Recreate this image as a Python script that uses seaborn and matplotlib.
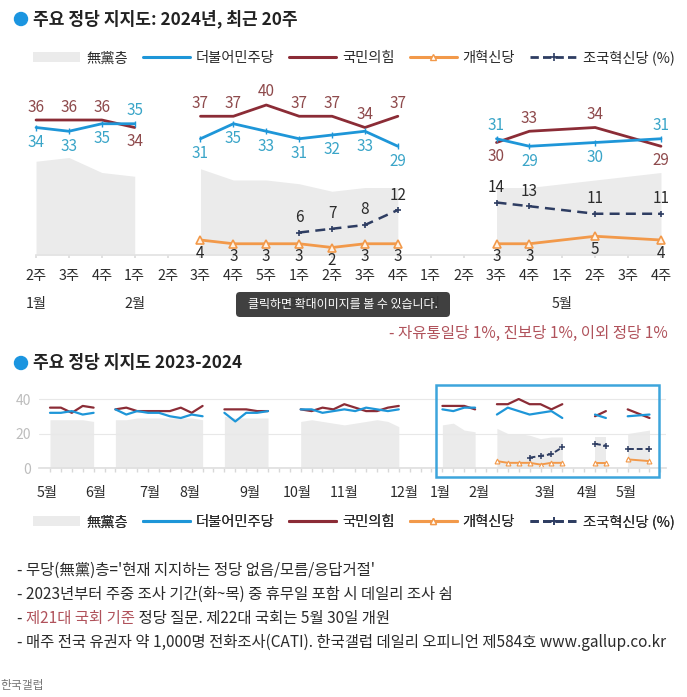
import numpy as np
import pandas as pd
import matplotlib
matplotlib.use('Agg')
import matplotlib.pyplot as plt
import seaborn as sns
from matplotlib.patches import Patch, Rectangle, FancyBboxPatch, Circle
from matplotlib.lines import Line2D

sns.set_theme(style='white')
plt.rcParams['font.family'] = ['Noto Sans CJK KR', 'DejaVu Sans']
plt.rcParams['axes.unicode_minus'] = False

nan = np.nan

# --- top chart: 2024, last 20 weeks ---
week_labels = ['2주', '3주', '4주', '1주', '2주', '3주', '4주', '5주', '1주', '2주',
               '3주', '4주', '1주', '2주', '3주', '4주', '1주', '2주', '3주', '4주']
top_months = ['1월', '2월', '3월', '4월', '5월']
top_month_pos = [0, 3, 8, 12, 16]
top_segments = [(0, 3), (5, 11), (14, 19)]
ppp_24 = [36, 36, 36, 34, nan, 37, 37, 40, 37, 37, 34, 37, nan, nan, 30, 33, nan, 34, nan, 29]
dem_24 = [34, 33, 35, 35, nan, 31, 35, 33, 31, 32, 33, 29, nan, nan, 31, 29, nan, 30, nan, 31]
reform_24 = [nan, nan, nan, nan, nan, 4, 3, 3, 3, 2, 3, 3, nan, nan, 3, 3, nan, 5, nan, 4]
rebuild_24 = [nan, nan, nan, nan, nan, nan, nan, nan, 6, 7, 8, 12, nan, nan, 14, 13, nan, 11, nan, 11]
indep_24 = [25, 26, 22, 21, nan, 23, 20, 20, 19, 17, 18, 18, nan, nan, 18, 18, nan, 20, nan, 22]

# --- bottom chart: 2023-05 .. 2024-05, weekly ---
all_months = ['5월', '6월', '7월', '8월', '9월', '10월', '11월', '12월', '1월', '2월', '3월', '4월', '5월']
all_month_pos = [-0.3, 4.2, 9.2, 12.8, 18.3, 22.7, 27, 32.5, 35.8, 39.4, 45.4, 49.3, 52.9]
all_segments = [(0, 4), (6, 14), (16, 20), (23, 32), (36, 39), (41, 47), (50, 51), (53, 55)]
ppp_all = ([35, 35, 32, 36, 35, nan] + [34, 35, 33, 33, 33, 33, 35, 32, 36, nan]
           + [34, 34, 34, 33, 33, nan, nan] + [34, 33, 35, 34, 37, 35, 33, 33, 35, 36, nan, nan, nan]
           + [36, 36, 36, 34, nan] + [37, 37, 40, 37, 37, 34, 37, nan, nan]
           + [30, 33, nan] + [34, nan, 29])
dem_all = ([32, 32, 33, 31, 32, nan] + [34, 31, 33, 32, 32, 30, 29, 31, 30, nan]
           + [32, 27, 32, 32, 33, nan, nan] + [34, 34, 32, 33, 34, 33, 35, 34, 33, 34, nan, nan, nan]
           + [34, 33, 35, 35, nan] + [31, 35, 33, 31, 32, 33, 29, nan, nan]
           + [31, 29, nan] + [30, nan, 31])
indep_all = ([28, 28, 28, 28, 27, nan] + [28, 28, 29, 29, 29, 29, 29, 29, 28, nan]
             + [30, 29, 29, 29, 29, nan, nan] + [27, 28, 27, 26, 25, 26, 27, 28, 27, 24, nan, nan, nan]
             + [25, 26, 22, 21, nan] + [23, 20, 20, 19, 17, 18, 18, nan, nan]
             + [18, 18, nan] + [20, nan, 22])
reform_all = [nan] * 41 + [4, 3, 3, 3, 2, 3, 3, nan, nan] + [3, 3, nan] + [5, nan, 4]
rebuild_all = [nan] * 44 + [6, 7, 8, 12, nan, nan] + [14, 13, nan] + [11, nan, 11]

c_dem = '#1E96D8'
c_ppp = '#8B2C36'
c_ref = '#F2994A'
c_reb = '#2E3D62'
c_gray = '#EBEBEB'
c_txt = '#2B2B2B'
lbl_dem = '#3AA5C8'
lbl_ppp = '#8E4A4C'


def seg_ids(n, segs):
    out = np.full(n, -1)
    for k, (a, b) in enumerate(segs):
        out[a:b + 1] = k
    return out


def party_line(ax, vals, seg, **kw):
    d = pd.DataFrame({'x': np.arange(len(vals)), 'v': vals, 'seg': seg}).dropna()
    d = d[d.seg >= 0]
    sns.lineplot(data=d, x='x', y='v', units='seg', estimator=None, ax=ax,
                 legend=False, sort=True, **kw)


def party_area(ax, vals, seg):
    d = pd.DataFrame({'x': np.arange(len(vals)), 'v': vals, 'seg': seg}).dropna()
    for k, g in d[d.seg >= 0].groupby('seg'):
        ax.fill_between(g.x, 0, g.v, color=c_gray, lw=0, zorder=0)


W, H = 687, 697
fig = plt.figure(figsize=(W / 100, H / 100), dpi=100)

# ---------------- top chart ----------------
ax1 = fig.add_axes([19.6 / W, (H - 255) / H, 657.8 / W, 168.75 / H])
seg1 = seg_ids(20, top_segments)
party_area(ax1, indep_24, seg1)
party_line(ax1, ppp_24, seg1, color=c_ppp, lw=2.0)
party_line(ax1, dem_24, seg1, color=c_dem, lw=2.0, marker='|', ms=4, mew=1, mec=c_dem)
party_line(ax1, reform_24, seg1, color=c_ref, lw=2.0, marker='^', ms=6, mfc='#FFF3E6', mec=c_ref, mew=1.2)
party_line(ax1, rebuild_24, seg1, color=c_reb, lw=1.8, ls=(0, (4, 2.5)), marker='+', ms=5, mew=1.2, mec=c_reb)

for i in range(20):
    p, d = ppp_24[i], dem_24[i]
    if not np.isnan(p):
        up_dem = d >= p
        ax1.annotate(f'{p:.0f}', (i, p), xytext=(0, -14 if up_dem else 13), textcoords='offset pixels',
                     ha='center', va='center', fontsize=11, color=lbl_ppp)
        ax1.annotate(f'{d:.0f}', (i, d), xytext=(0, 13 if up_dem else -15), textcoords='offset pixels',
                     ha='center', va='center', fontsize=11, color=lbl_dem)
    if not np.isnan(reform_24[i]):
        ax1.annotate(f'{reform_24[i]:.0f}', (i, reform_24[i]), xytext=(0, -13), textcoords='offset pixels',
                     ha='center', va='center', fontsize=11, color=c_txt)
    if not np.isnan(rebuild_24[i]):
        ax1.annotate(f'{rebuild_24[i]:.0f}', (i, rebuild_24[i]), xytext=(0, 15), textcoords='offset pixels',
                     ha='center', va='center', fontsize=11, color=c_txt)

ax1.set_xlim(-0.5, 19.5)
ax1.set_ylim(0, 45)
ax1.set_xticks(range(20), week_labels)
ax1.set_yticks([])
ax1.tick_params(axis='x', length=2, color='#DDDDDD', labelsize=10.3, labelcolor=c_txt, pad=8, bottom=True)
for s in ['top', 'left', 'right']:
    ax1.spines[s].set_visible(False)
ax1.spines['bottom'].set_color('#E3E3E3')
ax1.spines['bottom'].set_bounds(0, 19)
for m, pos in zip(top_months, top_month_pos):
    ax1.annotate(m, (pos, 0), xytext=(0, -49), textcoords='offset pixels',
                 ha='center', va='center', fontsize=10.3, color=c_txt)
ax1.set_xlabel('')
ax1.set_ylabel('')
ax1.patch.set_alpha(0)

# ---------------- bottom chart ----------------
ax2 = fig.add_axes([39.1 / W, (H - 468) / H, 626.75 / W, 77.6 / H])
seg2 = seg_ids(56, all_segments)
party_area(ax2, indep_all, seg2)
party_line(ax2, ppp_all, seg2, color=c_ppp, lw=1.6)
party_line(ax2, dem_all, seg2, color=c_dem, lw=1.6)
party_line(ax2, reform_all, seg2, color=c_ref, lw=1.4, marker='^', ms=3.5, mfc='white', mec=c_ref, mew=0.8)
party_line(ax2, rebuild_all, seg2, color=c_reb, lw=1.4, ls=(0, (3, 1.5)), marker='+', ms=5, mew=1.1, mec=c_reb)
ax2.set_xlim(-1, 56.5)
ax2.set_ylim(0, 45)
ax2.set_yticks([0, 20, 40])
ax2.yaxis.grid(True, color='#E8E8E8', lw=0.8)
ax2.set_axisbelow(True)
ax2.set_xticks(all_month_pos, all_months)
ax2.set_xticks(np.arange(0, 57), minor=True)
ax2.tick_params(axis='x', which='major', length=0, labelsize=10.3, labelcolor=c_txt, pad=13)
ax2.tick_params(axis='x', which='minor', length=3, color='#D8D8D8', bottom=True)
ax2.tick_params(axis='y', length=0, labelsize=10, labelcolor='#BDBDBD', pad=6)
for s in ['top', 'left', 'right']:
    ax2.spines[s].set_visible(False)
ax2.spines['bottom'].set_color('#E0E0E0')
ax2.set_xlabel('')
ax2.set_ylabel('')
ax2.patch.set_alpha(0)

# ---------------- overlay (pixel coordinates) ----------------
axn = fig.add_axes([0, 0, 1, 1], zorder=5)
axn.set_xlim(0, W)
axn.set_ylim(H, 0)
axn.axis('off')

for ty, title in [(19, '주요 정당 지지도: 2024년, 최근 20주'), (363, '주요 정당 지지도 2023-2024')]:
    axn.add_patch(Circle((21, ty), 6.5, color='#1B95E0'))
    axn.text(33, ty, title, fontsize=12.3, fontweight='bold', color='#222222', va='center', ha='left')

handles = [Patch(facecolor=c_gray, edgecolor='none'),
           Line2D([], [], color=c_dem, lw=2.2),
           Line2D([], [], color=c_ppp, lw=2.2),
           Line2D([], [], color=c_ref, lw=2.2, marker='^', ms=5, mfc='white', mec=c_ref),
           Line2D([], [], color=c_reb, lw=2, ls=(0, (3, 1.5)), marker='+', ms=6, mew=1.2)]
labels = ['無黨층', '더불어민주당', '국민의힘', '개혁신당', '조국혁신당 (%)']
for ly in [58, 522]:
    leg = axn.legend(handles, labels, loc='center left', bbox_to_anchor=(33, ly),
                     bbox_transform=axn.transData, ncol=5, frameon=False, fontsize=10.3,
                     handlelength=3.3, handletextpad=0.4, columnspacing=1.05,
                     borderpad=0, borderaxespad=0, labelcolor=c_txt)
    axn.add_artist(leg)

# red side note
axn.text(668, 333, '- 자유통일당 1%, 진보당 1%, 이외 정당 1%', fontsize=11.2, color='#B0525B',
         ha='right', va='center')

# box around the 2024 part of the long chart
axn.add_patch(Rectangle((436, 385), 223, 92, fill=False, ec='#3DA5DC', lw=1.8))

# notes
note_fs = 11.1
note_kw = dict(fontsize=note_fs, color=c_txt, va='bottom', ha='left')
for ny, note in [(569, "- 무당(無黨)층='현재 지지하는 정당 없음/모름/응답거절'"),
                 (593, '- 2023년부터 주중 조사 기간(화~목) 중 휴무일 포함 시 데일리 조사 쉼'),
                 (641, '- 매주 전국 유권자 약 1,000명 전화조사(CATI). 한국갤럽 데일리 오피니언 제584호 www.gallup.co.kr')]:
    axn.text(17, ny + 10, note, **note_kw)
t0 = axn.text(17, 617 + 10, '- ', **note_kw)
t1 = axn.annotate('제21대 국회 기준', xy=(1, 0), xycoords=t0, fontsize=note_fs, color='#B0525B',
                  va='bottom', ha='left')
axn.annotate(' 정당 질문. 제22대 국회는 5월 30일 개원', xy=(1, 0), xycoords=t1, **note_kw)

axn.text(0, 685, '한국갤럽', fontsize=8.5, color='#777777', ha='left', va='center')

# page tooltip overlay
axn.add_patch(FancyBboxPatch((236, 292), 214, 25, boxstyle='round,pad=0,rounding_size=4',
                             fc='#353535', ec='none', alpha=0.95, zorder=10))
axn.text(343, 304.5, '클릭하면 확대이미지를 볼 수 있습니다.', fontsize=8.6, color='white',
         ha='center', va='center', zorder=11)

fig.savefig('out.png', dpi=100, facecolor='white')
